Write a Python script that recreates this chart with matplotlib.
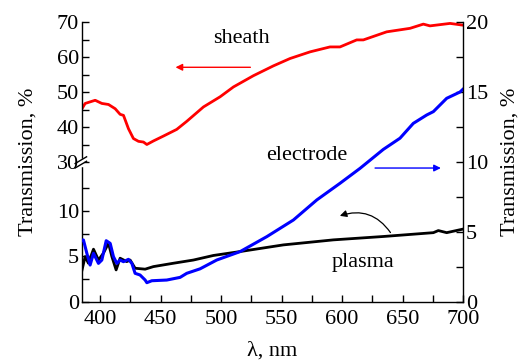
import matplotlib
matplotlib.use("Agg")
import matplotlib.pyplot as plt
import numpy as np
from matplotlib.ticker import FixedLocator

plt.rcParams['font.family'] = ['Liberation Serif', 'DejaVu Serif']
plt.rcParams['mathtext.fontset'] = 'stix'

# sheath (left axis, upper part)
sheath_x = [385, 387.6, 395.9, 401.4, 406.9, 412.4, 416.5, 419.3, 423.4, 427.5, 431.7, 435.8,
            438.6, 444, 452.3, 463.3, 471.6, 485.4, 499.2, 510.2, 526.7, 543.2, 557, 573.6,
            590, 598.3, 612.1, 617.6, 636.9, 656.2, 667.2, 672.7, 689.3, 700]
sheath_y = [45.3, 46.8, 47.7, 46.8, 46.5, 45.3, 43.7, 43.4, 39.6, 36.8, 36.0, 35.8,
            35.1, 36.1, 37.5, 39.4, 41.7, 45.8, 48.7, 51.5, 54.7, 57.5, 59.6, 61.5,
            62.9, 62.9, 64.9, 64.9, 67.2, 68.2, 69.4, 68.9, 69.6, 69.1]

# plasma (left axis, lower part)
plasma_x = [385, 387.6, 390.3, 394.5, 398.6, 402.7, 406.9, 409.7, 413.2, 416.5, 422, 424.8,
            428.9, 437.2, 444, 460.6, 477.1, 493.6, 515.7, 551.5, 592.8, 634.1, 675.5,
            679.6, 686.5, 700]
plasma_y = [3.5, 4.98, 4.25, 5.79, 4.6, 5.35, 6.45, 4.98, 3.52, 4.8, 4.43, 4.6,
            3.7, 3.6, 3.88, 4.25, 4.6, 5.1, 5.53, 6.26, 6.81, 7.18, 7.6,
            7.83, 7.6, 7.99]

# electrode (right axis)
electrode_x = [385, 386.2, 389, 391.7, 394.5, 398.6, 401.4, 405, 408.3, 411, 413.8, 416.5,
               419.3, 423.4, 426.2, 428.9, 433, 437.2, 438.6, 442.7, 455.1, 466.1, 471.6,
               482.6, 496.4, 515.7, 537.8, 559.8, 579.1, 598.3, 614.9, 634.1, 647.9,
               658.9, 670, 675.5, 686.5, 697.5, 700]
electrode_y = [4.43, 4.43, 3.48, 2.64, 3.48, 2.76, 3.0, 4.38, 4.19, 3.24, 2.76, 3.0,
               2.88, 3.05, 2.76, 2.05, 1.93, 1.57, 1.38, 1.52, 1.57, 1.76, 2.05,
               2.37, 3.0, 3.6, 4.67, 5.86, 7.29, 8.48, 9.55, 10.9, 11.7,
               12.76, 13.36, 13.6, 14.55, 15.0, 15.2]

x_ticks = [400, 450, 500, 550, 600, 650, 700]
left_ticks = [0, 5, 10, 30, 40, 50, 60, 70]
left_minor = [2.5, 7.5, 12.5, 35, 45, 55, 65]
right_ticks = [0, 5, 10, 15, 20]
right_minor = [2.5, 7.5, 12.5, 17.5]

# broken left axis: 0..B linear, 30..70 compressed
B = 15.3
K = 0.3846


def fwd(v):
    v = np.asarray(v, dtype=float)
    return np.where(v <= B, v, np.where(v >= 30, B + (v - 30) * K, B))


def inv(p):
    p = np.asarray(p, dtype=float)
    return np.where(p <= B, p, 30 + (p - B) / K)


fig = plt.figure(figsize=(5.21, 3.62), dpi=100)
ax = fig.add_axes([0.1574, 0.1657, 0.7313, 0.7735])
ax2 = ax.twinx()

ax.set_yscale('function', functions=(fwd, inv))
ax.plot(sheath_x, sheath_y, color='#ff0000', lw=2.0)
ax.plot(plasma_x, plasma_y, color='black', lw=2.0)
ax2.plot(electrode_x, electrode_y, color='#0000ff', lw=2.2)

ax.set_xlim(385, 700)
ax.set_ylim(0, 70)
ax2.set_ylim(0, 20)

ax.yaxis.set_major_locator(FixedLocator(left_ticks))
ax.yaxis.set_minor_locator(FixedLocator(left_minor))
ax2.yaxis.set_major_locator(FixedLocator(right_ticks))
ax2.yaxis.set_minor_locator(FixedLocator(right_minor))
ax.xaxis.set_major_locator(FixedLocator(x_ticks))
ax.xaxis.set_minor_locator(FixedLocator([425, 475, 525, 575, 625, 675]))

for a in (ax, ax2):
    a.spines['top'].set_visible(False)
    for s in a.spines.values():
        s.set_linewidth(1.0)
ax.spines['right'].set_visible(False)
ax2.spines['left'].set_visible(False)
ax2.spines['bottom'].set_visible(False)

ax.tick_params(axis='both', which='both', direction='in', length=5, width=1,
               labelsize=16, top=False, right=False, pad=2)
ax.tick_params(axis='x', which='major', pad=6)
ax2.tick_params(axis='y', which='both', direction='in', length=5, width=1,
                labelsize=16, pad=2)

ax.set_ylabel('Transmission, %', fontsize=16, labelpad=14)
ax2.set_ylabel('Transmission, %', fontsize=16, labelpad=9)
ax.set_xlabel('λ, nm', fontsize=16, labelpad=9)

# axis break marks on left spine
yb = B / fwd(70)
ax.plot([0, 0], [yb - 0.008, yb + 0.008], transform=ax.transAxes, color='white',
        lw=2.5, clip_on=False, zorder=5)
for off in (-0.008, 0.008):
    ax.plot([-0.018, 0.012], [yb + off - 0.012, yb + off + 0.012], transform=ax.transAxes,
            color='black', lw=1.0, clip_on=False, zorder=6)

# annotations
ax.text(517, 65.4, 'sheath', fontsize=16, ha='center', va='center')
ax.annotate('', xy=(460, 57.1), xytext=(526.5, 57.1),
            arrowprops=dict(arrowstyle='-|>', color='#ff0000', lw=1.0,
                            mutation_scale=10))
ax2.text(571, 10.5, 'electrode', fontsize=16, ha='center', va='center')
ax2.annotate('', xy=(684, 9.57), xytext=(625, 9.57),
             arrowprops=dict(arrowstyle='-|>', color='#0000ff', lw=1.0,
                             mutation_scale=10))
ax.text(617, 4.3, 'plasma', fontsize=16, ha='center', va='center')
ax.annotate('', xy=(596, 9.34), xytext=(641.3, 7.36),
            arrowprops=dict(arrowstyle='-|>', color='black', lw=0.9,
                            mutation_scale=10,
                            connectionstyle='arc3,rad=0.4'))

fig.savefig('out.png', dpi=100)
